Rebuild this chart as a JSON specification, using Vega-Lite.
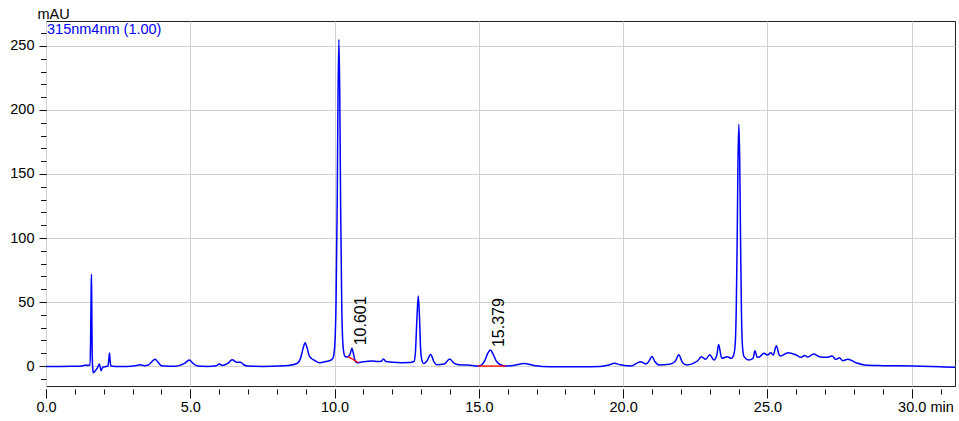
{
  "$schema": "https://vega.github.io/schema/vega-lite/v6.json",
  "width": 909,
  "height": 365,
  "autosize": {"type": "none"},
  "padding": {"left": 46, "top": 21, "right": 4, "bottom": 35},
  "background": "#ffffff",
  "config": {
    "view": {"stroke": "#222222", "strokeWidth": 1},
    "font": "Liberation Sans",
    "axis": {
      "domain": false,
      "labelFont": "Liberation Sans",
      "labelFontSize": 14.5,
      "labelColor": "#000000",
      "tickColor": "#111111",
      "tickWidth": 1,
      "gridColor": "#d2d2d2",
      "gridWidth": 1,
      "titleFont": "Liberation Sans",
      "titleFontSize": 14.5,
      "titleFontWeight": "normal",
      "titleColor": "#000000",
      "labelFlush": false,
      "labelOverlap": false,
      "labelBound": false
    }
  },
  "datasets": {
    "trace": [
      {"t": 0.0, "v": -0.3}, {"t": 0.5, "v": -0.3}, {"t": 1.0, "v": -0.2}, {"t": 1.3, "v": 0.3},
      {"t": 1.4, "v": 0.8}, {"t": 1.45, "v": 0.5}, {"t": 1.52, "v": 1.0}, {"t": 1.545, "v": 20},
      {"t": 1.565, "v": 60}, {"t": 1.575, "v": 71.6}, {"t": 1.585, "v": 50}, {"t": 1.6, "v": 10},
      {"t": 1.62, "v": -2}, {"t": 1.64, "v": -5.2}, {"t": 1.7, "v": -4}, {"t": 1.78, "v": -1.5},
      {"t": 1.85, "v": 1.5}, {"t": 1.91, "v": -3.7}, {"t": 1.96, "v": -1}, {"t": 2.05, "v": -0.5},
      {"t": 2.15, "v": 0}, {"t": 2.18, "v": 6}, {"t": 2.2, "v": 10.1}, {"t": 2.22, "v": 5},
      {"t": 2.25, "v": 0}, {"t": 2.4, "v": -0.3}, {"t": 2.8, "v": -0.3}, {"t": 3.1, "v": 0.2},
      {"t": 3.28, "v": 1.0}, {"t": 3.4, "v": 0.3}, {"t": 3.55, "v": 0.8}, {"t": 3.65, "v": 3},
      {"t": 3.78, "v": 5.2}, {"t": 3.9, "v": 2.5}, {"t": 4.0, "v": 0.3}, {"t": 4.5, "v": -0.2},
      {"t": 4.8, "v": 2}, {"t": 4.97, "v": 4.7}, {"t": 5.1, "v": 2}, {"t": 5.25, "v": 0},
      {"t": 5.6, "v": -0.3}, {"t": 5.9, "v": 0.3}, {"t": 6.01, "v": 1.5}, {"t": 6.12, "v": 0.5},
      {"t": 6.3, "v": 2}, {"t": 6.45, "v": 5}, {"t": 6.6, "v": 3}, {"t": 6.74, "v": 3},
      {"t": 6.85, "v": 1}, {"t": 7.0, "v": 0}, {"t": 7.5, "v": -0.3}, {"t": 8.0, "v": 0},
      {"t": 8.4, "v": 0.5}, {"t": 8.7, "v": 2}, {"t": 8.82, "v": 6}, {"t": 8.9, "v": 13},
      {"t": 8.98, "v": 18.2}, {"t": 9.05, "v": 14}, {"t": 9.12, "v": 8}, {"t": 9.19, "v": 6},
      {"t": 9.3, "v": 4.5}, {"t": 9.48, "v": 2.6}, {"t": 9.7, "v": 3.5}, {"t": 9.88, "v": 4.7},
      {"t": 9.95, "v": 6.5}, {"t": 10.0, "v": 14}, {"t": 10.05, "v": 48}, {"t": 10.09, "v": 125},
      {"t": 10.12, "v": 212}, {"t": 10.15, "v": 255.2}, {"t": 10.18, "v": 212}, {"t": 10.21, "v": 125},
      {"t": 10.25, "v": 45}, {"t": 10.3, "v": 14}, {"t": 10.36, "v": 7.5}, {"t": 10.42, "v": 7},
      {"t": 10.48, "v": 7.5}, {"t": 10.54, "v": 9.5}, {"t": 10.6, "v": 13.8}, {"t": 10.65, "v": 10},
      {"t": 10.7, "v": 5}, {"t": 10.77, "v": 2.6}, {"t": 10.9, "v": 3}, {"t": 11.1, "v": 3.5},
      {"t": 11.3, "v": 3.9}, {"t": 11.5, "v": 3.5}, {"t": 11.62, "v": 3.8}, {"t": 11.7, "v": 5.5},
      {"t": 11.78, "v": 3.5}, {"t": 12.0, "v": 3}, {"t": 12.3, "v": 2.6}, {"t": 12.6, "v": 2.7},
      {"t": 12.75, "v": 3.5}, {"t": 12.8, "v": 10}, {"t": 12.85, "v": 35}, {"t": 12.9, "v": 54.7},
      {"t": 12.94, "v": 40}, {"t": 12.98, "v": 14}, {"t": 13.03, "v": 4}, {"t": 13.08, "v": 2},
      {"t": 13.2, "v": 4}, {"t": 13.33, "v": 9.1}, {"t": 13.45, "v": 3}, {"t": 13.55, "v": 1},
      {"t": 13.8, "v": 1.5}, {"t": 13.99, "v": 5.5}, {"t": 14.15, "v": 2}, {"t": 14.3, "v": 1},
      {"t": 14.6, "v": 0.8}, {"t": 14.97, "v": 0}, {"t": 15.1, "v": 1}, {"t": 15.2, "v": 4},
      {"t": 15.3, "v": 9.5}, {"t": 15.4, "v": 12.5}, {"t": 15.5, "v": 9}, {"t": 15.6, "v": 4},
      {"t": 15.75, "v": 1}, {"t": 15.93, "v": 0}, {"t": 16.2, "v": 0.5}, {"t": 16.58, "v": 2},
      {"t": 16.9, "v": 0.5}, {"t": 17.5, "v": -0.5}, {"t": 18.5, "v": -0.5}, {"t": 19.2, "v": -0.3},
      {"t": 19.5, "v": 0.8}, {"t": 19.7, "v": 2.1}, {"t": 19.9, "v": 1}, {"t": 20.28, "v": 0},
      {"t": 20.5, "v": 2.5}, {"t": 20.6, "v": 3.4}, {"t": 20.8, "v": 1.5}, {"t": 20.9, "v": 4},
      {"t": 21.0, "v": 7.5}, {"t": 21.1, "v": 3.5}, {"t": 21.24, "v": 0.8}, {"t": 21.6, "v": 1.3},
      {"t": 21.8, "v": 3.5}, {"t": 21.93, "v": 8.9}, {"t": 22.05, "v": 3}, {"t": 22.21, "v": 0.8},
      {"t": 22.48, "v": 2.6}, {"t": 22.6, "v": 4.5}, {"t": 22.71, "v": 7.3}, {"t": 22.86, "v": 5.2},
      {"t": 23.0, "v": 8.9}, {"t": 23.15, "v": 4.7}, {"t": 23.25, "v": 9}, {"t": 23.31, "v": 16.9},
      {"t": 23.38, "v": 9}, {"t": 23.42, "v": 6}, {"t": 23.6, "v": 7.3}, {"t": 23.75, "v": 6},
      {"t": 23.83, "v": 8.6}, {"t": 23.88, "v": 16}, {"t": 23.92, "v": 45}, {"t": 23.95, "v": 95},
      {"t": 23.98, "v": 160}, {"t": 24.01, "v": 188.8}, {"t": 24.04, "v": 160}, {"t": 24.07, "v": 95},
      {"t": 24.1, "v": 42}, {"t": 24.14, "v": 14}, {"t": 24.19, "v": 7.3}, {"t": 24.35, "v": 4.7},
      {"t": 24.5, "v": 6}, {"t": 24.57, "v": 12}, {"t": 24.64, "v": 7}, {"t": 24.7, "v": 6.8},
      {"t": 24.88, "v": 9.9}, {"t": 25.0, "v": 8.6}, {"t": 25.12, "v": 10.4}, {"t": 25.2, "v": 8.6},
      {"t": 25.31, "v": 15.9}, {"t": 25.4, "v": 9}, {"t": 25.45, "v": 7.8}, {"t": 25.71, "v": 10.4},
      {"t": 26.0, "v": 8.6}, {"t": 26.17, "v": 6.8}, {"t": 26.29, "v": 8.3}, {"t": 26.4, "v": 7},
      {"t": 26.6, "v": 9.4}, {"t": 26.8, "v": 7.3}, {"t": 27.04, "v": 6.8}, {"t": 27.24, "v": 7.8},
      {"t": 27.37, "v": 5.2}, {"t": 27.5, "v": 6.5}, {"t": 27.6, "v": 4.2}, {"t": 27.79, "v": 5.2},
      {"t": 28.07, "v": 2.6}, {"t": 28.37, "v": 0.8}, {"t": 29.0, "v": 0.3}, {"t": 30.0, "v": 0},
      {"t": 31.0, "v": -0.6}, {"t": 31.5, "v": -1.0}
    ],
    "baseline": [
      {"peak": "10.601", "t": 10.46, "v": 7.3},
      {"peak": "10.601", "t": 10.84, "v": 2.6},
      {"peak": "15.379", "t": 14.97, "v": 0},
      {"peak": "15.379", "t": 15.93, "v": 0}
    ],
    "peaks": [
      {"rt": 10.601, "height": 13.8, "label": "10.601"},
      {"rt": 15.379, "height": 12.5, "label": "15.379"}
    ],
    "channel": [
      {"t": 0, "v": 269.5, "label": "315nm4nm (1.00)"}
    ]
  },
  "resolve": {"axis": {"x": "independent", "y": "independent"}},
  "layer": [
    {
      "data": {"name": "trace"},
      "mark": {"type": "line", "color": "#0000ff", "strokeWidth": 1.5, "interpolate": "monotone", "clip": true},
      "encoding": {
        "x": {
          "field": "t", "type": "quantitative",
          "scale": {"domain": [0, 31.5], "nice": false, "zero": false},
          "axis": {
            "orient": "bottom",
            "values": [0, 5, 10, 15, 20, 25, 30],
            "format": ".1f",
            "grid": true,
            "tickSize": 9,
            "offset": 3,
            "labelPadding": 2,
            "title": "min",
            "titleAlign": "left",
            "titleBaseline": "alphabetic",
            "titleX": 884,
            "titleY": 22.5
          }
        },
        "y": {
          "field": "v", "type": "quantitative",
          "scale": {"domain": [-15.6, 269.5], "nice": false, "zero": false},
          "axis": {
            "orient": "left",
            "values": [0, 50, 100, 150, 200, 250],
            "grid": true,
            "tickSize": 7,
            "labelPadding": 5,
            "title": "mAU",
            "titleAngle": 0,
            "titleAlign": "left",
            "titleBaseline": "alphabetic",
            "titleX": -9,
            "titleY": -3
          }
        }
      }
    },
    {
      "data": {"name": "baseline"},
      "mark": {"type": "line", "color": "#ff0000", "strokeWidth": 1.3},
      "encoding": {
        "detail": {"field": "peak"},
        "x": {
          "field": "t", "type": "quantitative",
          "axis": {
            "orient": "bottom",
            "values": [0, 1, 2, 3, 4, 5, 6, 7, 8, 9, 10, 11, 12, 13, 14, 15, 16, 17, 18, 19, 20, 21, 22, 23, 24, 25, 26, 27, 28, 29, 30, 31],
            "grid": false,
            "labels": false,
            "tickSize": 5,
            "offset": 3,
            "title": null
          }
        },
        "y": {
          "field": "v", "type": "quantitative",
          "axis": {
            "orient": "left",
            "values": [-10, 0, 10, 20, 30, 40, 50, 60, 70, 80, 90, 100, 110, 120, 130, 140, 150, 160, 170, 180, 190, 200, 210, 220, 230, 240, 250, 260],
            "grid": false,
            "labels": false,
            "tickSize": 5.5,
            "title": null
          }
        }
      }
    },
    {
      "data": {"name": "peaks"},
      "mark": {"type": "text", "angle": 270, "align": "left", "baseline": "middle", "dx": 3, "dy": 9, "fontSize": 16, "font": "Liberation Sans", "color": "#000000"},
      "encoding": {
        "x": {"field": "rt", "type": "quantitative", "axis": null},
        "y": {"field": "height", "type": "quantitative", "axis": null},
        "text": {"field": "label"}
      }
    },
    {
      "data": {"name": "channel"},
      "mark": {"type": "text", "align": "left", "baseline": "top", "dx": 1, "dy": 2, "fontSize": 14.5, "font": "Liberation Sans", "color": "#0000ff"},
      "encoding": {
        "x": {"field": "t", "type": "quantitative", "axis": null},
        "y": {"field": "v", "type": "quantitative", "axis": null},
        "text": {"field": "label"}
      }
    }
  ]
}
